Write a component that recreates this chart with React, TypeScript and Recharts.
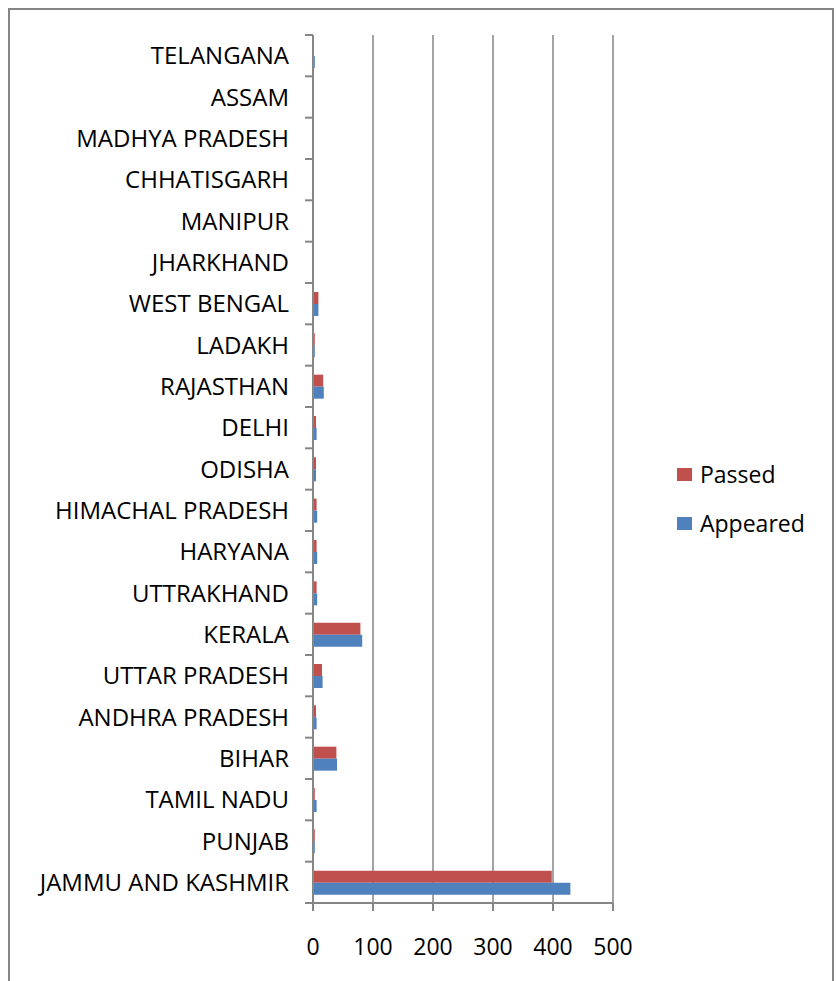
import React from "react";
import { BarChart, Bar, XAxis, YAxis, CartesianGrid } from "recharts";

// categories top to bottom
const states = [
    "TELANGANA",
    "ASSAM",
    "MADHYA PRADESH",
    "CHHATISGARH",
    "MANIPUR",
    "JHARKHAND",
    "WEST BENGAL",
    "LADAKH",
    "RAJASTHAN",
    "DELHI",
    "ODISHA",
    "HIMACHAL PRADESH",
    "HARYANA",
    "UTTRAKHAND",
    "KERALA",
    "UTTAR PRADESH",
    "ANDHRA PRADESH",
    "BIHAR",
    "TAMIL NADU",
    "PUNJAB",
    "JAMMU AND KASHMIR",
];

const passed = [1, 1, 1, 1, 1, 1, 9, 3, 17, 5, 5, 6, 6, 6, 79, 15, 5, 39, 3, 3, 398];
const appeared = [3, 1, 1, 1, 1, 1, 9, 3, 18, 6, 5, 7, 7, 7, 82, 16, 6, 40, 6, 3, 429];

const xTicks = [0, 100, 200, 300, 400, 500];

const data = states.map((s, i) => ({ state: s, passed: passed[i], appeared: appeared[i] }));

const W = 837;
const H = 981;
const TOP = 35;
const BOTTOM = 903;
const band = (BOTTOM - TOP) / states.length;
const FONT = '"Open Sans", sans-serif';
const FS = 23;
const AXIS = "#868686";
const RED = "#C0504D";
const BLUE = "#4F81BD";

function StateTick(props: any) {
    const { x, y, payload, index } = props;
    const ax = x + 24;
    return (
        <g>
            <text x={x} y={y} dy={8.5} textAnchor="end" fontFamily={FONT} fontSize={24} fill="#000">
                {payload.value}
            </text>
            {index === 0 && (
                <line x1={ax - 8} x2={ax} y1={y - band / 2} y2={y - band / 2} stroke={AXIS} strokeWidth={2} />
            )}
            <line x1={ax - 8} x2={ax} y1={y + band / 2} y2={y + band / 2} stroke={AXIS} strokeWidth={2} />
        </g>
    );
}

function LegendItem({ color, label, top }: { color: string; label: string; top: number }) {
    return (
        <div style={{ position: "absolute", left: 677, top, display: "flex", alignItems: "center" }}>
            <div style={{ width: 15, height: 13, background: color, marginRight: 8 }} />
            <span style={{ fontFamily: FONT, fontSize: FS, color: "#000", lineHeight: "24px" }}>{label}</span>
        </div>
    );
}

export default function App() {
    return (
        <div style={{ position: "absolute", left: 0, top: 0, width: W, height: H, overflow: "hidden", background: "#fff" }}>
            <div
                style={{
                    position: "absolute",
                    left: 8,
                    top: 8,
                    width: 822,
                    height: 1000,
                    border: `2px solid ${AXIS}`,
                }}
            />
            <div style={{ position: "absolute", left: 0, top: 0 }}>
                <BarChart
                    width={W}
                    height={H}
                    data={data}
                    layout="vertical"
                    margin={{ top: TOP, right: W - 613, bottom: 0, left: 0 }}
                    barSize={12}
                    barGap={0}
                >
                    <CartesianGrid horizontal={false} stroke={AXIS} strokeWidth={1.5} />
                    <XAxis
                        type="number"
                        domain={[0, 500]}
                        ticks={xTicks}
                        height={H - BOTTOM}
                        tickSize={8}
                        tickMargin={28}
                        axisLine={{ stroke: AXIS, strokeWidth: 2 }}
                        tickLine={{ stroke: AXIS, strokeWidth: 2 }}
                        tick={{ fontFamily: FONT, fontSize: FS, fill: "#000" }}
                    />
                    <YAxis
                        type="category"
                        dataKey="state"
                        width={313}
                        interval={0}
                        tickSize={8}
                        tickMargin={16}
                        tickLine={false}
                        axisLine={{ stroke: AXIS, strokeWidth: 2 }}
                        tick={<StateTick />}
                    />
                    <Bar dataKey="passed" fill={RED} isAnimationActive={false} />
                    <Bar dataKey="appeared" fill={BLUE} isAnimationActive={false} />
                </BarChart>
            </div>
            <LegendItem color={RED} label="Passed" top={462} />
            <LegendItem color={BLUE} label="Appeared" top={511} />
        </div>
    );
}
